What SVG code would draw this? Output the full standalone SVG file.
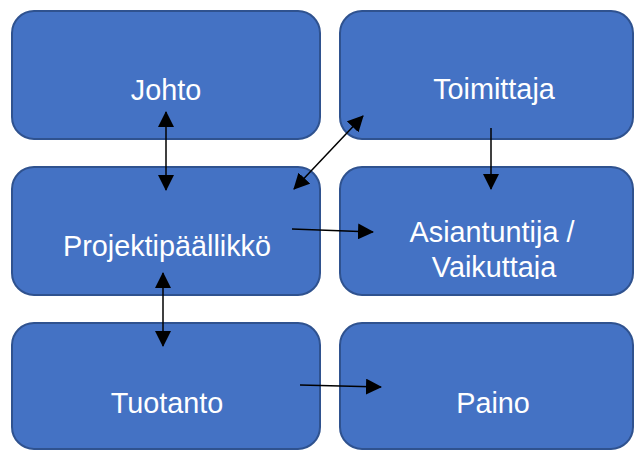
<svg xmlns="http://www.w3.org/2000/svg" width="634" height="450" viewBox="0 0 634 450">
<style>
.box{fill:#4472C4;stroke:#2F528F;stroke-width:2}
.lbl{fill:#fff;font-family:"Liberation Sans",Arial,sans-serif;font-size:28.8px;text-anchor:middle}
.con{stroke:#000;stroke-width:1.5;fill:none}
</style>
<defs>
<marker id="ah" viewBox="0 0 16 16" refX="15" refY="8" markerWidth="16" markerHeight="16" markerUnits="userSpaceOnUse" orient="auto-start-reverse">
<path d="M0,0 L16,8 L0,16 z" fill="#000"/>
</marker>
<clipPath id="clipA"><rect x="340" y="167" width="294" height="112"/></clipPath>
</defs>
<g id="johto"><rect class="box" x="12" y="11" width="308" height="128" rx="22"/><text class="lbl" x="166" y="100">Johto</text></g>
<g id="toimittaja"><rect class="box" x="340" y="11" width="293" height="128" rx="22"/><text class="lbl" x="494" y="99">Toimittaja</text></g>
<g id="projektipaallikko"><rect class="box" x="12" y="167" width="308" height="128" rx="22"/><text class="lbl" x="167" y="256">Projektipäällikkö</text></g>
<g id="asiantuntija"><rect class="box" x="340" y="167" width="293" height="128" rx="22"/><text class="lbl" clip-path="url(#clipA)"><tspan x="492" y="242">Asiantuntija /</tspan><tspan x="494" y="277">Vaikuttaja</tspan></text></g>
<g id="tuotanto"><rect class="box" x="12" y="323" width="308" height="126" rx="22"/><text class="lbl" x="167" y="413">Tuotanto</text></g>
<g id="paino"><rect class="box" x="340" y="323" width="293" height="126" rx="22"/><text class="lbl" x="493" y="413">Paino</text></g>
<g id="connectors">
<line class="con" x1="166" y1="112" x2="166" y2="190" marker-start="url(#ah)" marker-end="url(#ah)"/>
<line class="con" x1="163" y1="273" x2="163" y2="346" marker-start="url(#ah)" marker-end="url(#ah)"/>
<line class="con" x1="363" y1="116" x2="294" y2="189" marker-start="url(#ah)" marker-end="url(#ah)"/>
<line class="con" x1="491" y1="128" x2="491" y2="189" marker-end="url(#ah)"/>
<line class="con" x1="292" y1="229" x2="373" y2="232" marker-end="url(#ah)"/>
<line class="con" x1="300" y1="385" x2="381" y2="387" marker-end="url(#ah)"/>
</g>
</svg>
